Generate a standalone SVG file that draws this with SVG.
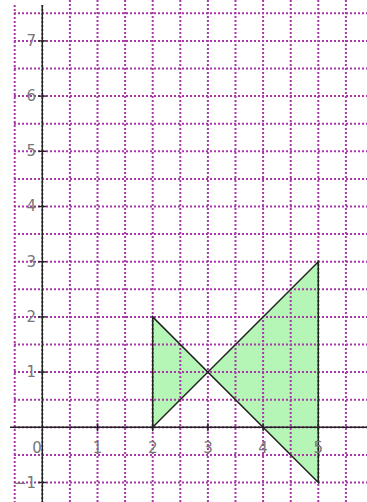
<svg xmlns="http://www.w3.org/2000/svg" width="367" height="502" viewBox="0 0 367 502">
<style>
.grid line{stroke:#a838a8;stroke-width:2;stroke-dasharray:2 2}
.axis line{stroke:#222;stroke-width:1.4}
.lbl text{font-family:"DejaVu Sans",Verdana,sans-serif;font-size:15px;fill:#777777}
.ylbl{text-anchor:end}
.xlbl{text-anchor:middle}
</style>
<rect width="367" height="502" fill="#ffffff"/>
<g id="shape-fill">
<polygon points="152.7,427.3 152.7,316.9 318.3,482.5 318.3,261.7" fill="#b5f5b5" stroke="none"/>
</g>
<g id="grid" class="grid">
<line x1="14.7" y1="5" x2="14.7" y2="502"/>
<line x1="42.3" y1="5" x2="42.3" y2="502"/>
<line x1="69.9" y1="0" x2="69.9" y2="502"/>
<line x1="97.5" y1="0" x2="97.5" y2="502"/>
<line x1="125.1" y1="0" x2="125.1" y2="502"/>
<line x1="152.7" y1="0" x2="152.7" y2="502"/>
<line x1="180.3" y1="0" x2="180.3" y2="502"/>
<line x1="207.9" y1="0" x2="207.9" y2="502"/>
<line x1="235.5" y1="0" x2="235.5" y2="502"/>
<line x1="263.1" y1="0" x2="263.1" y2="502"/>
<line x1="290.7" y1="0" x2="290.7" y2="502"/>
<line x1="318.3" y1="0" x2="318.3" y2="502"/>
<line x1="345.9" y1="0" x2="345.9" y2="502"/>
<line x1="14" y1="13.3" x2="367" y2="13.3"/>
<line x1="14" y1="40.9" x2="367" y2="40.9"/>
<line x1="14" y1="68.5" x2="367" y2="68.5"/>
<line x1="14" y1="96.1" x2="367" y2="96.1"/>
<line x1="14" y1="123.7" x2="367" y2="123.7"/>
<line x1="14" y1="151.3" x2="367" y2="151.3"/>
<line x1="14" y1="178.9" x2="367" y2="178.9"/>
<line x1="14" y1="206.5" x2="367" y2="206.5"/>
<line x1="14" y1="234.1" x2="367" y2="234.1"/>
<line x1="14" y1="261.7" x2="367" y2="261.7"/>
<line x1="14" y1="289.3" x2="367" y2="289.3"/>
<line x1="14" y1="316.9" x2="367" y2="316.9"/>
<line x1="14" y1="344.5" x2="367" y2="344.5"/>
<line x1="14" y1="372.1" x2="367" y2="372.1"/>
<line x1="14" y1="399.7" x2="367" y2="399.7"/>
<line x1="14" y1="427.3" x2="367" y2="427.3"/>
<line x1="14" y1="454.9" x2="367" y2="454.9"/>
<line x1="14" y1="482.5" x2="367" y2="482.5"/>
</g>
<g id="axes" class="axis">
<line x1="10" y1="427.3" x2="367" y2="427.3"/>
<line x1="42.3" y1="5" x2="42.3" y2="502"/>
<line x1="97.5" y1="423.3" x2="97.5" y2="431.3"/>
<line x1="152.7" y1="423.3" x2="152.7" y2="431.3"/>
<line x1="207.9" y1="423.3" x2="207.9" y2="431.3"/>
<line x1="263.1" y1="423.3" x2="263.1" y2="431.3"/>
<line x1="318.3" y1="423.3" x2="318.3" y2="431.3"/>
<line x1="38.3" y1="40.9" x2="46.3" y2="40.9"/>
<line x1="38.3" y1="96.1" x2="46.3" y2="96.1"/>
<line x1="38.3" y1="151.3" x2="46.3" y2="151.3"/>
<line x1="38.3" y1="206.5" x2="46.3" y2="206.5"/>
<line x1="38.3" y1="261.7" x2="46.3" y2="261.7"/>
<line x1="38.3" y1="316.9" x2="46.3" y2="316.9"/>
<line x1="38.3" y1="372.1" x2="46.3" y2="372.1"/>
<line x1="38.3" y1="482.5" x2="46.3" y2="482.5"/>
</g>
<g id="shape-outline">
<polygon points="152.7,427.3 152.7,316.9 318.3,482.5 318.3,261.7" fill="none" stroke="#222" stroke-width="1.5" stroke-linejoin="miter"/>
</g>
<g id="labels" class="lbl">
<text class="xlbl" x="37" y="453">0</text>
<text class="xlbl" x="97.5" y="453">1</text>
<text class="xlbl" x="152.7" y="453">2</text>
<text class="xlbl" x="207.9" y="453">3</text>
<text class="xlbl" x="263.1" y="453">4</text>
<text class="xlbl" x="318.3" y="453">5</text>
<text class="ylbl" x="36" y="46">7</text>
<text class="ylbl" x="36" y="101">6</text>
<text class="ylbl" x="36" y="156">5</text>
<text class="ylbl" x="36" y="211">4</text>
<text class="ylbl" x="36" y="267">3</text>
<text class="ylbl" x="36" y="322">2</text>
<text class="ylbl" x="36" y="377">1</text>
<text class="ylbl" x="36" y="488">−1</text>
</g>
</svg>
